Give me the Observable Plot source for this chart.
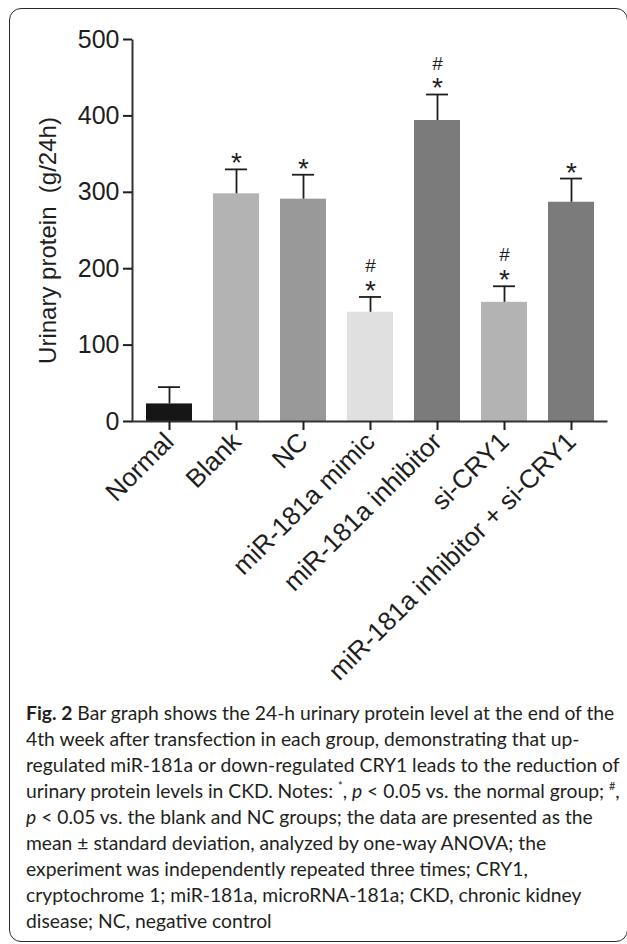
<!DOCTYPE html>
<html>
<head>
<meta charset="utf-8">
<script src="https://cdn.jsdelivr.net/npm/d3@7"></script>
<script src="https://cdn.jsdelivr.net/npm/@observablehq/plot@0.6"></script>
<style>
  html, body { margin: 0; padding: 0; background: #fff; }
  body { width: 627px; height: 944px; position: relative; overflow: hidden; }
  #frame { position: absolute; left: 9px; top: 8px; width: 619px; height: 934px; box-sizing: border-box;
           border: 1.6px solid #2a2a2a; border-radius: 12px; }
  #chart { position: absolute; left: 0; top: 0; }
  #caption { position: absolute; left: 26px; top: 700px; font-family: Lato, "Open Sans", sans-serif;
             font-size: 19.3px; line-height: 26px; color: #231f20; white-space: nowrap; }
  #caption b { font-weight: 700; }
  #caption sup { font-size: 11px; vertical-align: 8px; line-height: 0; }
</style>
</head>
<body>
<div id="frame"></div>
<div id="chart"></div>
<div id="caption">
  <div><b>Fig. 2</b> Bar graph shows the 24-h urinary protein level at the end of the</div>
  <div>4th week after transfection in each group, demonstrating that up-</div>
  <div>regulated miR-181a or down-regulated CRY1 leads to the reduction of</div>
  <div>urinary protein levels in CKD. Notes: <sup>*</sup>, <i>p</i> &lt; 0.05 vs. the normal group; <sup>#</sup>,</div>
  <div><i>p</i> &lt; 0.05 vs. the blank and NC groups; the data are presented as the</div>
  <div>mean ± standard deviation, analyzed by one-way ANOVA; the</div>
  <div>experiment was independently repeated three times; CRY1,</div>
  <div>cryptochrome 1; miR-181a, microRNA-181a; CKD, chronic kidney</div>
  <div>disease; NC, negative control</div>
</div>
<script>
const groups = ["Normal", "Blank", "NC", "miR-181a mimic", "miR-181a inhibitor", "si-CRY1", "miR-181a inhibitor + si-CRY1"];
const means = [23, 298, 291, 143, 394, 156, 287];
const sds = [22, 32, 32, 20, 34, 21, 31];
const barColors = ["#161616", "#b3b3b3", "#999999", "#e0e0e0", "#7b7b7b", "#b3b3b3", "#7b7b7b"];
const starMarks = ["", "*", "*", "*", "*", "*", "*"];
const hashMarks = ["", "", "", "#", "#", "#", ""];
const yTicks = [0, 100, 200, 300, 400, 500];
const yLabel = "Urinary protein  (g/24h)";

const data = groups.map((g, i) => ({
  group: g, mean: means[i], sd: sds[i], color: barColors[i], star: starMarks[i], hash: hashMarks[i]
}));

const W = 627, H = 690, ML = 132, MR = 20, MT = 39, MB = 269;
const fw = W - ML - MR, fh = H - MT - MB;

const chart = Plot.plot({
  width: W, height: H,
  marginLeft: ML, marginRight: MR, marginTop: MT, marginBottom: MB,
  style: { fontFamily: "'Liberation Sans', Arial, sans-serif", color: "#1e1e1e", background: "transparent" },
  x: { domain: groups, paddingInner: 0.32, paddingOuter: 0.16, axis: null },
  y: { domain: [0, 500], axis: null },
  color: { type: "identity" },
  marks: [
    Plot.barY(data, { x: "group", y: "mean", fill: "color" }),
    Plot.ruleX(data, { x: "group", y1: "mean", y2: d => d.mean + d.sd, stroke: "#1e1e1e", strokeWidth: 1.8 }),
    Plot.tickY(data, { x: "group", y: d => d.mean + d.sd, insetLeft: 12, insetRight: 12, stroke: "#1e1e1e", strokeWidth: 1.8 }),
    Plot.text(data, { x: "group", y: d => d.mean + d.sd, text: "star", dy: -6, fontSize: 28, fill: "#1e1e1e" }),
    Plot.text(data, { x: "group", y: d => d.mean + d.sd, text: "hash", dy: -31, fontSize: 19, fill: "#1e1e1e" }),
    Plot.frame({ stroke: "#333", strokeWidth: 2, strokeDasharray: `0 ${fw + fh} ${fw + fh}` }),
    Plot.axisY({ ticks: yTicks, tickSize: 9, tickPadding: 4, fontSize: 25, label: null, strokeWidth: 2 }),
    Plot.axisX({ tickSize: 9, tickPadding: 7, tickRotate: -45, fontSize: 26, label: null, strokeWidth: 2 }),
    Plot.text([yLabel], { frameAnchor: "left", textAnchor: "middle", dx: -84.5, dy: 10, rotate: -90, fontSize: 24, fill: "#1e1e1e" })
  ]
});
document.getElementById("chart").appendChild(chart);
</script>
</body>
</html>
